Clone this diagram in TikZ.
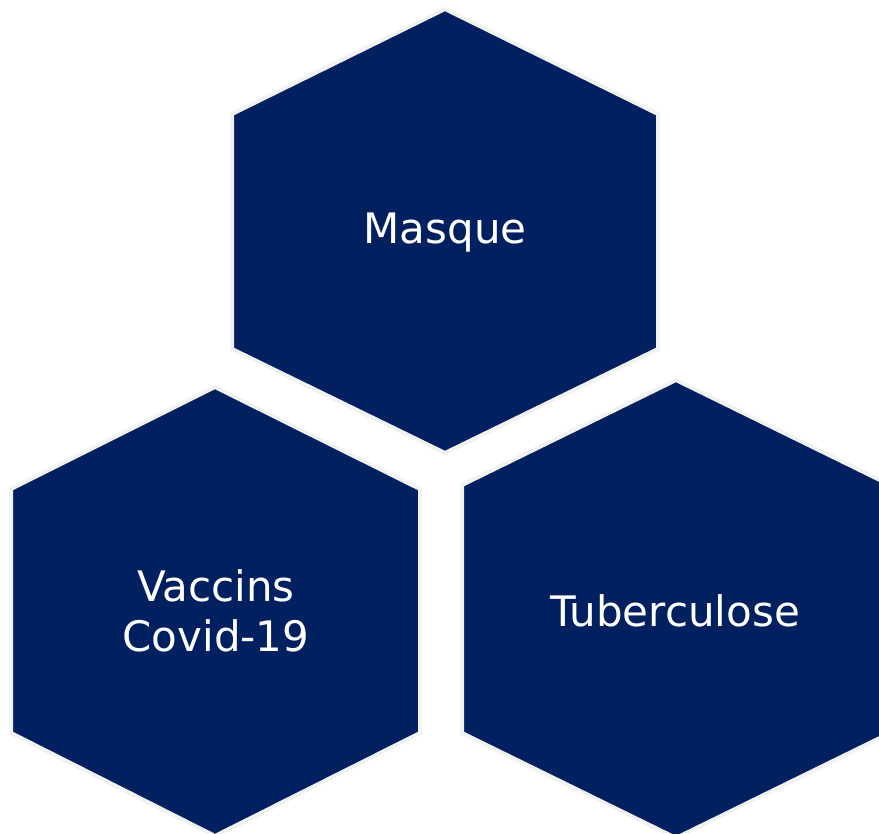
\documentclass[tikz,border=0pt]{standalone}
\usepackage{fontspec}
\setmainfont{DejaVu Sans}
\definecolor{navy}{HTML}{002060}
\definecolor{rim}{HTML}{F2F2F2}
\begin{document}
\begin{tikzpicture}[x=1pt,y=-1pt,
  hexa/.style={fill=navy,draw=rim,line width=4pt,line join=miter},
  lbl/.style={text=white,font=\fontsize{42}{50}\selectfont,align=center,inner sep=0pt}]
\useasboundingbox (0,0) rectangle (879,834);
\fill[white] (0,0) rectangle (879,834);
% top
\draw[hexa] (445,9) -- (658,114) -- (658,349) -- (445,453) -- (232,349) -- (232,114) -- cycle;
% bottom left
\draw[hexa] (215,387) -- (420,489) -- (420,733) -- (215,836) -- (11,733) -- (11,489) -- cycle;
% bottom right
\draw[hexa] (676,380) -- (890,485) -- (890,733) -- (676,838) -- (462,733) -- (462,485) -- cycle;
\node[lbl] (m) at (445,233) {Masque};
\node[lbl] (v) at (216,611) {Vaccins\\Covid-19};
\node[lbl] (t) at (675,611) {Tuberculose};
\end{tikzpicture}
\end{document}
